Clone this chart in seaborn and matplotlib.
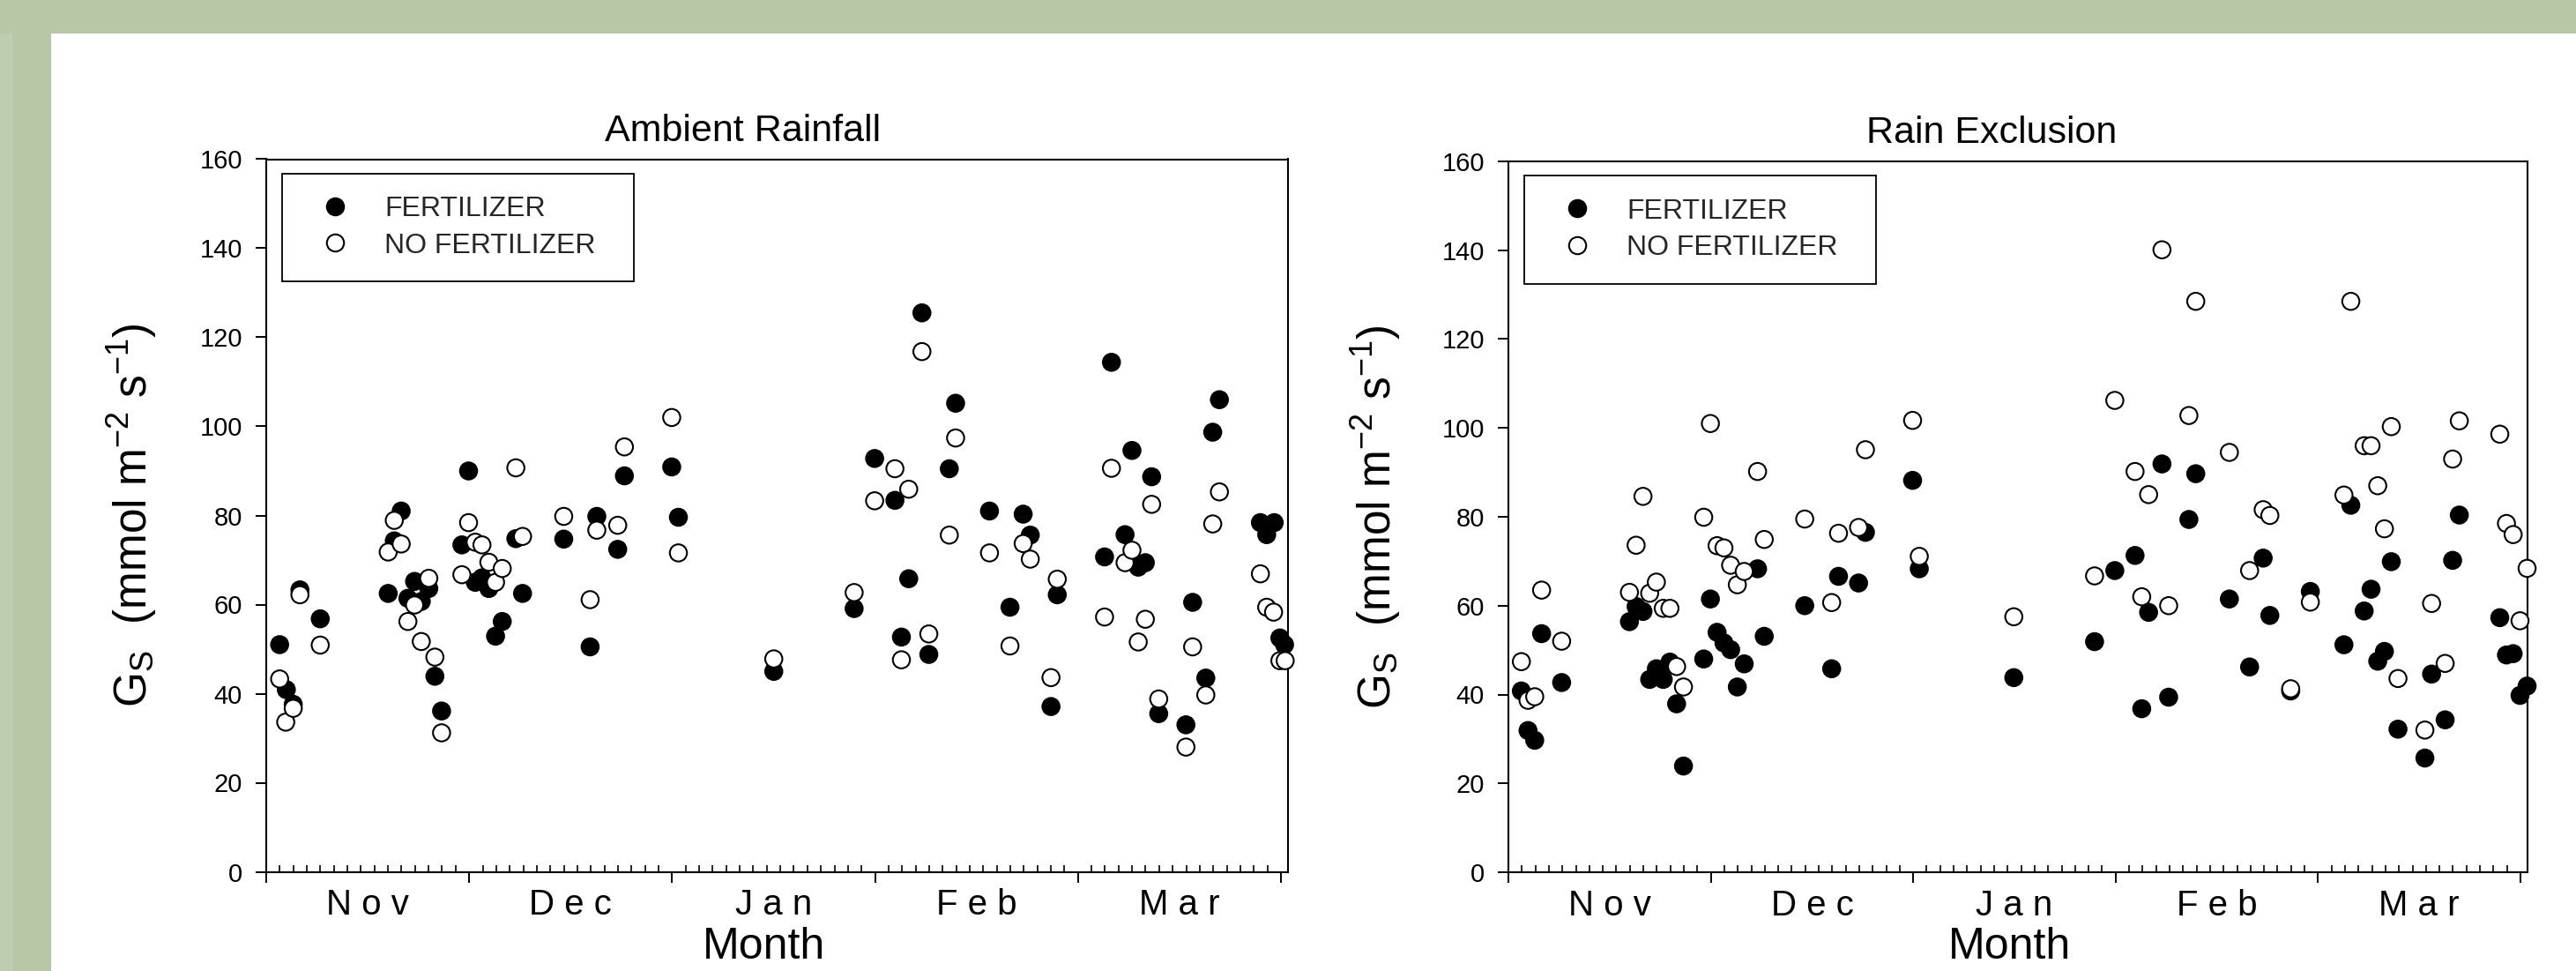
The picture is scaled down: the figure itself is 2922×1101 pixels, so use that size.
import numpy as np
import pandas as pd
import matplotlib
matplotlib.use("Agg")
import matplotlib.pyplot as plt
import seaborn as sns
from matplotlib.ticker import MultipleLocator
from matplotlib.patches import Rectangle
from matplotlib.lines import Line2D

# x positions are in months counted from 1 Nov (Nov = 0..1, Dec = 1..2, ...)
amb_fert_x = [0.066, 0.099, 0.133, 0.166, 0.266, 0.601, 0.631, 0.665, 0.698, 0.731,
              0.764, 0.801, 0.831, 0.864, 0.964, 0.997, 1.030, 1.063, 1.097, 1.130,
              1.163, 1.230, 1.263, 1.466, 1.596, 1.629, 1.732, 1.765, 1.998, 2.031,
              2.501, 2.897, 2.998, 3.098, 3.130, 3.166, 3.231, 3.265, 3.366, 3.397,
              3.564, 3.665, 3.730, 3.765, 3.867, 3.898, 4.131, 4.165, 4.232, 4.266,
              4.297, 4.332, 4.363, 4.398, 4.532, 4.565, 4.630, 4.664, 4.697, 4.899,
              4.930, 4.967, 4.995, 5.018]
amb_fert_y = [51.0, 40.9, 37.6, 63.3, 56.8, 62.5, 74.3, 81.0, 61.4, 65.2,
              60.7, 63.6, 43.9, 36.1, 73.4, 90.0, 65.0, 66.0, 63.6, 52.9,
              56.2, 74.8, 62.5, 74.7, 50.5, 79.8, 72.4, 88.9, 90.9, 79.6,
              45.0, 59.1, 92.8, 83.4, 52.7, 65.8, 125.5, 48.8, 90.5, 105.2,
              81.0, 59.4, 80.3, 75.6, 37.1, 62.2, 70.7, 114.4, 75.7, 94.6,
              68.4, 69.4, 88.7, 35.5, 33.0, 60.5, 43.5, 98.7, 106.0, 78.4,
              75.7, 78.4, 52.5, 51.0]
amb_nofert_x = [0.066, 0.096, 0.133, 0.166, 0.266, 0.601, 0.631, 0.665, 0.698, 0.731,
                0.764, 0.801, 0.831, 0.864, 0.964, 0.997, 1.030, 1.063, 1.097, 1.130,
                1.163, 1.230, 1.263, 1.466, 1.596, 1.629, 1.732, 1.765, 1.998, 2.031,
                2.501, 2.897, 2.998, 3.098, 3.130, 3.166, 3.231, 3.265, 3.366, 3.397,
                3.564, 3.665, 3.730, 3.765, 3.867, 3.898, 4.131, 4.165, 4.232, 4.266,
                4.297, 4.332, 4.363, 4.398, 4.532, 4.565, 4.630, 4.664, 4.697, 4.899,
                4.930, 4.964, 4.995, 5.021]
amb_nofert_y = [43.3, 33.6, 36.7, 62.2, 50.9, 71.8, 78.9, 73.6, 56.2, 59.9,
                51.7, 65.9, 48.2, 31.2, 66.7, 78.4, 74.0, 73.4, 69.5, 65.0,
                68.1, 90.7, 75.3, 79.8, 61.1, 76.7, 77.8, 95.4, 102.0, 71.6,
                47.8, 62.7, 83.3, 90.5, 47.6, 85.9, 116.8, 53.4, 75.6, 97.4,
                71.6, 50.7, 73.7, 70.2, 43.6, 65.7, 57.2, 90.6, 69.4, 72.2,
                51.6, 56.7, 82.5, 38.8, 28.0, 50.5, 39.7, 78.1, 85.3, 66.9,
                59.4, 58.3, 47.4, 47.4]

exc_fert_x = [0.064, 0.097, 0.130, 0.164, 0.263, 0.598, 0.631, 0.665, 0.698, 0.731,
              0.765, 0.798, 0.831, 0.865, 0.965, 0.998, 1.031, 1.065, 1.098, 1.131,
              1.165, 1.231, 1.264, 1.464, 1.597, 1.631, 1.730, 1.764, 1.997, 2.030,
              2.497, 2.896, 2.996, 3.096, 3.129, 3.163, 3.229, 3.262, 3.362, 3.396,
              3.562, 3.662, 3.729, 3.762, 3.865, 3.962, 4.128, 4.162, 4.228, 4.262,
              4.295, 4.328, 4.362, 4.395, 4.528, 4.561, 4.628, 4.665, 4.698, 4.898,
              4.931, 4.964, 4.998, 5.033]
exc_fert_y = [40.8, 31.9, 29.7, 53.7, 42.7, 56.4, 59.8, 58.7, 43.4, 45.8,
              43.4, 47.3, 37.9, 23.9, 48.0, 61.5, 54.0, 51.6, 50.1, 41.7,
              46.9, 68.3, 53.1, 60.0, 45.8, 66.6, 65.1, 76.5, 88.2, 68.3,
              43.8, 51.9, 67.9, 71.3, 36.8, 58.5, 91.9, 39.4, 79.4, 89.7,
              61.5, 46.2, 70.7, 57.8, 40.8, 63.2, 51.2, 82.6, 58.8, 63.7,
              47.5, 49.7, 69.9, 32.2, 25.7, 44.6, 34.3, 70.2, 80.4, 57.3,
              48.9, 49.2, 39.8, 41.9]
exc_nofert_x = exc_fert_x
exc_nofert_y = [47.4, 38.7, 39.5, 63.5, 52.0, 63.0, 73.6, 84.6, 62.8, 65.3,
                59.4, 59.4, 46.3, 41.7, 79.9, 101.0, 73.5, 73.0, 69.1, 64.7,
                67.7, 90.2, 74.9, 79.5, 60.7, 76.3, 77.6, 95.1, 101.7, 71.1,
                57.5, 66.7, 106.2, 90.2, 62.0, 85.0, 140.1, 60.0, 102.8, 128.5,
                94.5, 67.9, 81.6, 80.3, 41.3, 60.8, 84.9, 128.5, 96.0, 96.0,
                87.0, 77.3, 100.3, 43.6, 32.0, 60.5, 47.0, 93.0, 101.6, 98.6,
                78.5, 76.0, 56.6, 68.4]

month_labels = ['N o v', 'D e c', 'J a n', 'F e b', 'M a r']
treatments = ['FERTILIZER', 'NO FERTILIZER']

sns.set_style('ticks')
plt.rcParams['font.family'] = ['Liberation Sans', 'DejaVu Sans']
plt.rcParams['mathtext.default'] = 'regular'

W, H = 2922, 1101
fig = plt.figure(figsize=(W / 100, H / 100), dpi=100)
fig.patch.set_facecolor('#b7c8a7')
fig.add_artist(Rectangle((0, 0), 14 / W, (H - 38) / H, transform=fig.transFigure,
                         facecolor='#bdcdb0', edgecolor='none', zorder=0))
fig.add_artist(Rectangle((58 / W, 0), 1, (H - 38) / H, transform=fig.transFigure,
                         facecolor='white', edgecolor='none', zorder=0))

ax1 = fig.add_axes([302 / W, (H - 988.5) / H, 1159 / W, 808 / H])
ax2 = fig.add_axes([1711 / W, (H - 989) / H, 1156 / W, 806 / H])

palette = {'FERTILIZER': 'black', 'NO FERTILIZER': 'white'}
ylab = r'G$_{S}$  (mmol m$^{-2}$ s$^{-1}$)'


def panel(ax, fx, fy, nx, ny, title, tx, ylx, mx):
    df = pd.concat([
        pd.DataFrame({'month': fx, 'gs': fy, 'trt': treatments[0]}),
        pd.DataFrame({'month': nx, 'gs': ny, 'trt': treatments[1]}),
    ], ignore_index=True)
    sns.scatterplot(data=df, x='month', y='gs', hue='trt', palette=palette,
                    edgecolor='black', linewidth=1.5, s=196, ax=ax,
                    legend=False, clip_on=False, zorder=3)
    ax.set_facecolor('white')
    ax.set_xlim(0, 5.035)
    ax.set_ylim(0, 160)
    for sp in ax.spines.values():
        sp.set_visible(True)
        sp.set_linewidth(1.5)
        sp.set_color('black')
    ax.xaxis.set_major_locator(MultipleLocator(1))
    ax.xaxis.set_minor_locator(MultipleLocator(1 / 15))
    ax.yaxis.set_major_locator(MultipleLocator(20))
    ax.tick_params(axis='x', which='major', direction='out', length=8.6, width=1.4,
                   labelbottom=False, top=False, color='black')
    ax.tick_params(axis='x', which='minor', direction='in', length=5.8, width=1.2,
                   bottom=True, top=False, color='black')
    ax.tick_params(axis='y', which='major', direction='out', length=8.6, width=1.4,
                   labelsize=21, pad=11, right=False, color='black', labelcolor='black')
    ax.tick_params(axis='y', which='minor', left=False, right=False)

    for i, m in enumerate(month_labels):
        ax.text(i + 0.5, -0.023, m, transform=ax.get_xaxis_transform(),
                ha='center', va='top', fontsize=29, color='black')

    ax.text(tx, 1 + 21 / 808, title, transform=ax.transAxes, ha='center',
            va='baseline', fontsize=31, color='black')

    ax.set_xlabel('Month', fontsize=36, color='black', va='top')
    ax.xaxis.set_label_coords(mx, -0.077)
    ax.set_ylabel(ylab, fontsize=37, color='black')
    ax.yaxis.set_label_coords(ylx, 0.5)

    handles = [Line2D([], [], marker='o', linestyle='', markersize=14,
                      markerfacecolor=palette[t], markeredgecolor='black',
                      markeredgewidth=1.5) for t in treatments]
    labels = ['FERTILIZER', 'NO FERTILIZER  ']
    leg = ax.legend(handles, labels, loc='upper left',
                    bbox_to_anchor=(18 / 1159, 1 - 16 / 808), borderaxespad=0,
                    frameon=True, fancybox=False, shadow=False, fontsize=23,
                    borderpad=0.8, labelspacing=0.36, handlelength=2.15,
                    handletextpad=0.68)
    leg.get_frame().set_edgecolor('black')
    leg.get_frame().set_linewidth(1.3)
    leg.get_frame().set_facecolor('white')
    leg.get_frame().set_alpha(1)


panel(ax1, amb_fert_x, amb_fert_y, amb_nofert_x, amb_nofert_y,
      'Ambient Rainfall', 0.466, -0.105, 0.487)
panel(ax2, exc_fert_x, exc_fert_y, exc_nofert_x, exc_nofert_y,
      'Rain Exclusion', 0.474, -0.104, 0.492)

fig.savefig('out.png', dpi=100, facecolor=fig.get_facecolor())
